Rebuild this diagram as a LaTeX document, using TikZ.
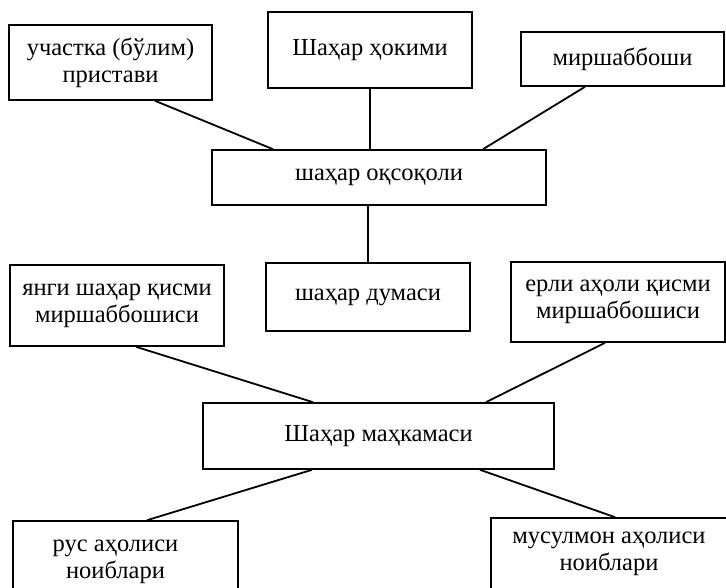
\documentclass[tikz,border=0pt]{standalone}
\usepackage{fontspec}
\setmainfont{Liberation Serif}
\tikzset{
  box/.style={draw, line width=1.6bp, rectangle, align=center, inner sep=0pt,
    font=\fontsize{24.5bp}{27bp}\selectfont},
  link/.style={line width=1.8bp}
}
\begin{document}
\begin{tikzpicture}[x=1bp,y=-1bp]
\useasboundingbox (0,0) rectangle (726,588);
\node[box, minimum width=203bp, minimum height=75bp] (b1) at (110.5,62.5) {участка (бўлим)\\пристави};
\node[box, minimum width=204bp, minimum height=76bp] (b2) at (370,50) {Шаҳар ҳокими};
\node[box, minimum width=203bp, minimum height=54bp] (b3) at (622.5,59) {миршаббоши};
\node[box, minimum width=334bp, minimum height=55bp] (b4) at (379,177.5) {шаҳар оқсоқоли};
\node[box, minimum width=214bp, minimum height=81bp] (b5) at (117,305.5) {янги шаҳар қисми\\миршаббошиси};
\node[box, minimum width=204bp, minimum height=68bp] (b6) at (368,297) {шаҳар думаси};
\node[box, minimum width=214bp, minimum height=80bp] (b7) at (618,302) {ерли аҳоли қисми\\миршаббошиси};
\node[box, minimum width=351bp, minimum height=66bp] (b8) at (378.5,436) {Шаҳар маҳкамаси};
\node[box, minimum width=225bp, minimum height=82bp] (b9) at (125.5,562) {рус аҳолиси\hspace*{20bp}\\ноиблари\hspace*{20bp}};
\node[box, minimum width=236bp, minimum height=72bp] (b10) at (609,554) {мусулмон аҳолиси\\ноиблари};
\draw[link] ([xshift=44.5bp]b1.south) -- ([xshift=-106bp]b4.north);
\draw[link] (b2.south) -- (b2.south |- b4.north);
\draw[link] ([xshift=-37.5bp]b3.south) -- ([xshift=104bp]b4.north);
\draw[link] (b6.north |- b4.south) -- (b6.north);
\draw[link] ([xshift=19bp]b5.south) -- ([xshift=-65.5bp]b8.north);
\draw[link] ([xshift=-13bp]b7.south) -- ([xshift=107.5bp]b8.north);
\draw[link] ([xshift=-66.5bp]b8.south) -- ([xshift=21.5bp]b9.north);
\draw[link] ([xshift=101.5bp]b8.south) -- ([xshift=6bp]b10.north);
\end{tikzpicture}
\end{document}
